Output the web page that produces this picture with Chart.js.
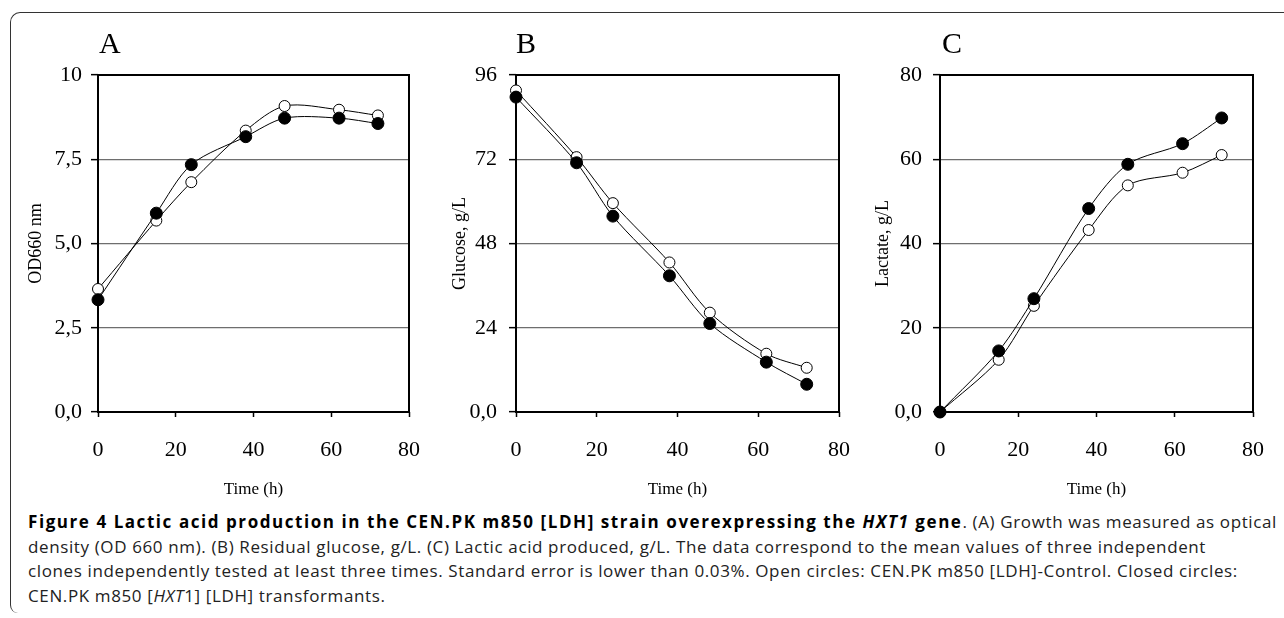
<!DOCTYPE html>
<html>
<head>
<meta charset="utf-8">
<script src="https://cdn.jsdelivr.net/npm/chart.js@4.4.1/dist/chart.umd.min.js"></script>
<style>
	body { margin: 0; background: #fff; width: 1284px; height: 618px; overflow: hidden; position: relative; }
	canvas { position: absolute; top: 0; }
	#frame {
		position: absolute; left: 10px; top: 12px; width: 1300px; height: 600px;
		border-left: 1.5px solid #333; border-top: 1.5px solid #333;
		border-top-left-radius: 10px; border-bottom-left-radius: 8px;
	}
	#caption {
		position: absolute; left: 28px; top: 510px;
		font-family: "Open Sans", sans-serif; font-size: 17px; line-height: 24.5px;
		color: #222; white-space: nowrap;
	}
	#caption b { color: #000; }
	#caption span { display: inline-block; }
</style>
</head>
<body>
<div id="frame"></div>
<canvas id="ChartA" width="440" height="510" style="left:0px"></canvas>
<canvas id="ChartB" width="440" height="510" style="left:430px"></canvas>
<canvas id="ChartC" width="434" height="510" style="left:850px"></canvas>
<div id="caption"><span id="capLine1"><b id="capBold">Figure 4 Lactic acid production in the CEN.PK m850 [LDH] strain overexpressing the <i>HXT1</i> gene</b>. (A) Growth was measured as optical</span><br><span id="capLine2">density (OD 660 nm). (B) Residual glucose, g/L. (C) Lactic acid produced, g/L. The data correspond to the mean values of three independent</span><br>clones independently tested at least three times. Standard error is lower than 0.03%. Open circles: CEN.PK m850 [LDH]-Control. Closed circles:<br>CEN.PK m850 [<i>HXT</i>1] [LDH] transformants.</div>
<script>

// DATA
const hours = [0, 15, 24, 38, 48, 62, 72];
const xTicks = [0, 20, 40, 60, 80];

const odControl = [3.65, 5.68, 6.82, 8.35, 9.08, 8.97, 8.8];
const odHxt1 = [3.33, 5.9, 7.34, 8.17, 8.72, 8.72, 8.56];
const odTicks = [0, 2.5, 5, 7.5, 10];
const odTickLabels = ["0,0", "2,5", "5,0", "7,5", "10"];

const glucoseControl = [91.6, 72.6, 59.5, 42.6, 28.3, 16.6, 12.6];
const glucoseHxt1 = [89.7, 71.0, 55.8, 38.8, 25.2, 14.2, 7.9];
const glucoseTicks = [0, 24, 48, 72, 96];
const glucoseTickLabels = ["0,0", "24", "48", "72", "96"];

const lactateControl = [0, 12.4, 25.2, 43.2, 53.8, 56.8, 61.0];
const lactateHxt1 = [0, 14.5, 26.9, 48.3, 58.8, 63.7, 69.8];
const lactateTicks = [0, 20, 40, 60, 80];
const lactateTickLabels = ["0,0", "20", "40", "60", "80"];


const serif = "'Liberation Serif', 'Times New Roman', serif";

// caption: the source font is wider than Open Sans, so spread the letters.
// regular text is fitted on line 2, the bold part on line 1
(function fitCaption() {
	const cap = document.getElementById("caption");
	const line1 = document.getElementById("capLine1");
	const line2 = document.getElementById("capLine2");
	const bold = document.getElementById("capBold");

	let w = line2.getBoundingClientRect().width;
	let ls = (1178 - w) / line2.textContent.length;
	cap.style.letterSpacing = ls.toFixed(3) + "px";

	w = line1.getBoundingClientRect().width;
	let boldLs = ls + (1249 - w) / bold.textContent.length;
	bold.style.letterSpacing = boldLs.toFixed(3) + "px";
})();

// frame round the plot area + panel letter
const panelPlugin = {
	id: "panel",
	beforeDatasetsDraw(chart, args, opts) {
		const { ctx, chartArea } = chart;
		ctx.save();
		ctx.strokeStyle = "#000";
		ctx.lineWidth = 2;
		ctx.strokeRect(chartArea.left, chartArea.top, chartArea.right - chartArea.left, chartArea.bottom - chartArea.top);
		ctx.restore();
	},
	afterDraw(chart, args, opts) {
		const { ctx, chartArea } = chart;
		ctx.save();
		ctx.fillStyle = "#000";
		ctx.font = "30px " + serif;
		ctx.textBaseline = "alphabetic";
		ctx.fillText(opts.letter, chartArea.left + (opts.dx || 0), 53);
		ctx.restore();
	},
};

function createPanel(chartID, p) {
	return new Chart(document.getElementById(chartID), {
		type: "line",
		plugins: [panelPlugin],
		data: {
			labels: hours,
			datasets: [
				{
					data: p.closed,
					borderColor: "#000",
					borderWidth: 1,
					pointRadius: 6,
					pointBackgroundColor: "#000",
					pointBorderColor: "#000",
					pointBorderWidth: 1,
					tension: 0.3,
					clip: false,
				},
				{
					data: p.open,
					borderColor: "#000",
					borderWidth: 1,
					pointRadius: 5.5,
					pointBackgroundColor: "#fff",
					pointBorderColor: "#000",
					pointBorderWidth: 1,
					tension: 0.3,
					clip: false,
				},
			],
		},
		options: {
			responsive: false,
			animation: false,
			layout: { padding: { top: 75, right: p.padRight, bottom: 0, left: 0 } },
			plugins: {
				legend: { display: false },
				tooltip: { enabled: false },
				panel: { letter: p.letter, dx: p.letterDx },
			},
			scales: {
				x: {
					type: "linear",
					min: 0,
					max: 80,
					afterBuildTicks: (scale) => { scale.ticks = xTicks.map((v) => ({ value: v })); },
					afterFit: (scale) => { scale.height = 98; },
					border: { display: false },
					grid: {
						drawOnChartArea: false,
						tickLength: 5,
						tickColor: "#000",
						tickWidth: 1.5,
					},
					ticks: {
						padding: 20,
						color: "#000",
						font: { family: serif, size: 22 },
						maxRotation: 0,
					},
					title: {
						display: true,
						text: "Time (h)",
						color: "#000",
						font: { family: serif, size: 17 },
						padding: { top: 0, bottom: 10 },
					},
				},
				y: {
					min: 0,
					max: p.ticks[p.ticks.length - 1],
					afterBuildTicks: (scale) => { scale.ticks = p.ticks.map((v) => ({ value: v })); },
					afterFit: (scale) => { scale.width = p.yWidth; },
					border: { display: false },
					grid: {
						color: (c) => (c.index == 0 || c.index == p.ticks.length - 1 ? "transparent" : "#6e6e6e"),
						lineWidth: 1.3,
						tickLength: 7,
						tickColor: "#000",
						tickWidth: 1.5,
					},
					ticks: {
						padding: p.tickPad,
						color: "#000",
						font: { family: serif, size: 22 },
						callback: (value, index) => p.labels[index],
					},
					title: {
						display: true,
						text: p.yTitle,
						color: "#000",
						font: { family: serif, size: 18 },
						padding: { top: p.titlePad, bottom: 0 },
					},
				},
			},
		},
	});
}

createPanel("ChartA", {
	letter: "A", letterDx: 1,
	open: odControl, closed: odHxt1,
	ticks: odTicks, labels: odTickLabels,
	yTitle: "OD660 nm",
	yWidth: 98, padRight: 24, tickPad: 9, titlePad: 25,
});

createPanel("ChartB", {
	letter: "B", letterDx: 0,
	open: glucoseControl, closed: glucoseHxt1,
	ticks: glucoseTicks, labels: glucoseTickLabels,
	yTitle: "Glucose, g/L",
	yWidth: 86, padRight: 29, tickPad: 12, titlePad: 19,
});

createPanel("ChartC", {
	letter: "C", letterDx: 2,
	open: lactateControl, closed: lactateHxt1,
	ticks: lactateTicks, labels: lactateTickLabels,
	yTitle: "Lactate, g/L",
	yWidth: 90, padRight: 18, tickPad: 11, titlePad: 22,
});

</script>
</body>
</html>
